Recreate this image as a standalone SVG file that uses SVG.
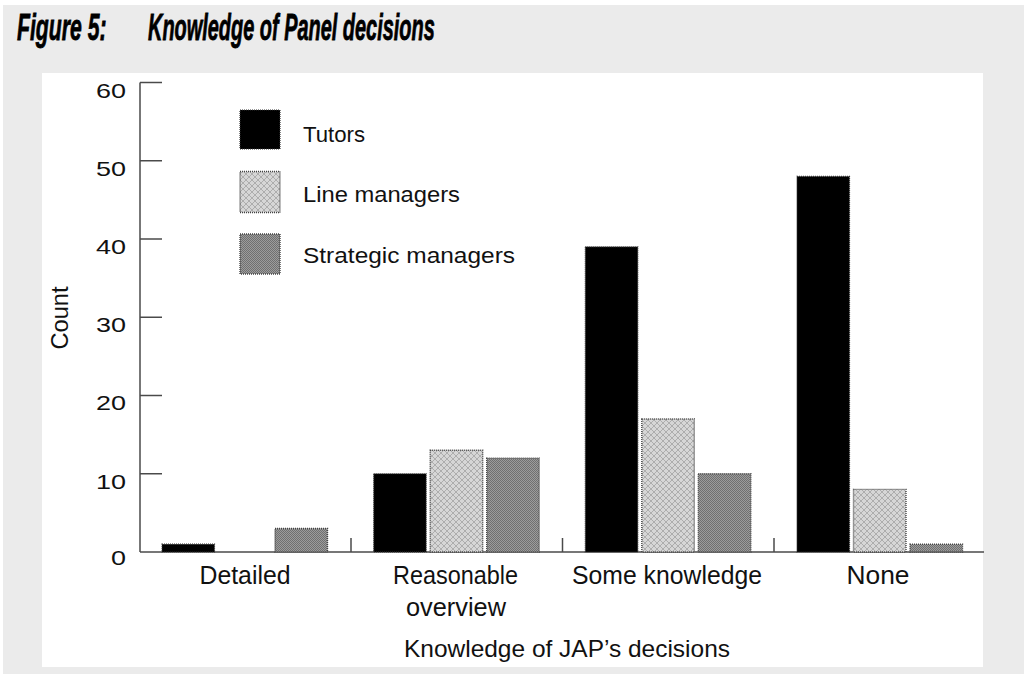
<svg xmlns="http://www.w3.org/2000/svg" width="1024" height="674" viewBox="0 0 1024 674">
  <defs>
    <pattern id="pLine" width="6" height="6" patternUnits="userSpaceOnUse">
      <rect width="6" height="6" fill="#d6d6d6"/>
      <path d="M0,0 L6,6 M6,0 L0,6" stroke="#a8a8a8" stroke-width="0.9"/>
    </pattern>
    <pattern id="pStrat" width="2" height="2" patternUnits="userSpaceOnUse">
      <rect width="2" height="2" fill="#9c9c9c"/>
      <rect width="1" height="1" fill="#707070"/>
      <rect x="1" y="1" width="1" height="1" fill="#707070"/>
    </pattern>
    <style>
      .t { font-family: "Liberation Sans", Arial, sans-serif; fill: #111; }
      .title { font-family: "Liberation Sans", Arial, sans-serif; font-weight: bold; font-style: italic; font-size: 37px; fill: #000; stroke: #000; stroke-width: 0.8; }
      .tick { font-size: 21px; text-anchor: end; }
      .cat { font-size: 25px; text-anchor: middle; }
      .leg { font-size: 22px; }
      .axis { stroke: #4a4a4a; stroke-width: 1.5; fill: none; }
      .tutor { fill: #000; stroke: #333; stroke-width: 1.2; stroke-dasharray: 1 1; }
      .line { fill: url(#pLine); stroke: #444; stroke-width: 1.4; stroke-dasharray: 1 1; }
      .strat { fill: url(#pStrat); stroke: #444; stroke-width: 1.4; stroke-dasharray: 1 1; }
    </style>
  </defs>

  <rect x="0" y="0" width="1024" height="674" fill="#ffffff"/>
  <rect x="3" y="5" width="1021" height="669" fill="#ebebeb"/>
  <rect x="42" y="73" width="941" height="594" fill="#ffffff"/>

  <g id="title">
    <text class="title" transform="translate(17,40) scale(0.56,1)" x="0" y="0" textLength="160" lengthAdjust="spacingAndGlyphs">Figure 5:</text>
    <text class="title" transform="translate(148,40) scale(0.56,1)" x="0" y="0" textLength="512" lengthAdjust="spacingAndGlyphs">Knowledge of Panel decisions</text>
  </g>

  <g id="axes">
    <line class="axis" x1="140" y1="82.5" x2="140" y2="552"/>
    <line class="axis" x1="140" y1="552" x2="984" y2="552"/>
    <g id="yticks">
      <line class="axis" x1="140" y1="82.5" x2="162" y2="82.5"/>
      <line class="axis" x1="140" y1="160.75" x2="162" y2="160.75"/>
      <line class="axis" x1="140" y1="239" x2="162" y2="239"/>
      <line class="axis" x1="140" y1="317.25" x2="162" y2="317.25"/>
      <line class="axis" x1="140" y1="395.5" x2="162" y2="395.5"/>
      <line class="axis" x1="140" y1="473.75" x2="162" y2="473.75"/>
    </g>
    <g id="xticks">
      <line class="axis" x1="351" y1="538" x2="351" y2="552"/>
      <line class="axis" x1="562.5" y1="538" x2="562.5" y2="552"/>
      <line class="axis" x1="774" y1="538" x2="774" y2="552"/>
    </g>
    <g id="ylabels" class="t">
      <text class="t tick" x="126" y="97.5" textLength="30" lengthAdjust="spacingAndGlyphs">60</text>
      <text class="t tick" x="126" y="175.5" textLength="30" lengthAdjust="spacingAndGlyphs">50</text>
      <text class="t tick" x="126" y="253.5" textLength="30" lengthAdjust="spacingAndGlyphs">40</text>
      <text class="t tick" x="126" y="332" textLength="30" lengthAdjust="spacingAndGlyphs">30</text>
      <text class="t tick" x="126" y="410" textLength="30" lengthAdjust="spacingAndGlyphs">20</text>
      <text class="t tick" x="126" y="488.5" textLength="30" lengthAdjust="spacingAndGlyphs">10</text>
      <text class="t tick" x="126" y="565" textLength="15" lengthAdjust="spacingAndGlyphs">0</text>
    </g>
    <text class="t" font-size="23" text-anchor="middle" transform="translate(68,318) rotate(-90)" textLength="63" lengthAdjust="spacingAndGlyphs">Count</text>
  </g>

  <g id="legend">
    <g id="legend-tutors">
      <rect class="tutor" x="240" y="110" width="40" height="39"/>
      <text class="t leg" x="303" y="141.5" textLength="62" lengthAdjust="spacingAndGlyphs">Tutors</text>
    </g>
    <g id="legend-line">
      <rect class="line" x="240" y="171.5" width="40" height="41"/>
      <text class="t leg" x="303" y="201.5" textLength="157" lengthAdjust="spacingAndGlyphs">Line managers</text>
    </g>
    <g id="legend-strategic">
      <rect class="strat" x="240" y="234" width="40" height="40"/>
      <text class="t leg" x="303" y="263" textLength="212" lengthAdjust="spacingAndGlyphs">Strategic managers</text>
    </g>
  </g>

  <g id="cat-detailed">
    <rect class="tutor" x="162" y="544.2" width="52.5" height="7.8"/>
    <rect class="strat" x="275" y="528.5" width="52.5" height="23.5"/>
    <text class="t cat" x="245" y="584" textLength="91" lengthAdjust="spacingAndGlyphs">Detailed</text>
  </g>

  <g id="cat-reasonable">
    <rect class="tutor" x="373.7" y="473.75" width="52.5" height="78.25"/>
    <rect class="line" x="430.2" y="450.3" width="52.5" height="101.7"/>
    <rect class="strat" x="486.7" y="458.1" width="52.5" height="93.9"/>
    <text class="t cat" x="455.5" y="584" textLength="125" lengthAdjust="spacingAndGlyphs">Reasonable</text>
    <text class="t cat" x="456" y="616" textLength="100" lengthAdjust="spacingAndGlyphs">overview</text>
  </g>

  <g id="cat-some">
    <rect class="tutor" x="585.3" y="246.8" width="52.5" height="305.2"/>
    <rect class="line" x="641.8" y="419" width="52.5" height="133"/>
    <rect class="strat" x="698.3" y="473.75" width="52.5" height="78.25"/>
    <text class="t cat" x="667" y="584" textLength="190" lengthAdjust="spacingAndGlyphs">Some knowledge</text>
  </g>

  <g id="cat-none">
    <rect class="tutor" x="797" y="176.4" width="52.5" height="375.6"/>
    <rect class="line" x="853.5" y="489.4" width="52.5" height="62.6"/>
    <rect class="strat" x="910" y="544.2" width="52.5" height="7.8"/>
    <text class="t cat" x="878" y="584" textLength="63" lengthAdjust="spacingAndGlyphs">None</text>
  </g>

  <text id="xtitle" class="t" font-size="24" text-anchor="middle" x="567" y="657" textLength="326" lengthAdjust="spacingAndGlyphs">Knowledge of JAP’s decisions</text>
</svg>
